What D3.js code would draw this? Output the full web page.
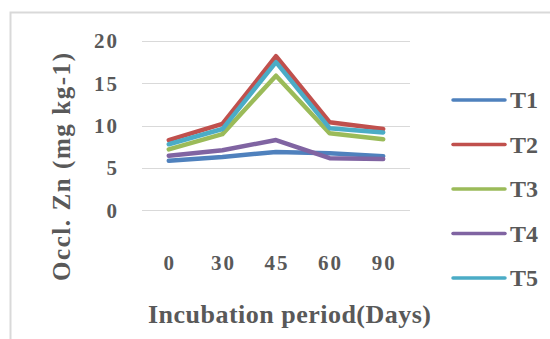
<!DOCTYPE HTML>
<html>
<head>
<meta charset="utf-8">
<title>Occl. Zn</title>
<style>
body { margin: 0; background: #fff; }
svg text { font-family: "Liberation Serif", "Times New Roman", Times, "DejaVu Serif", serif; font-weight: bold; fill: #595959; }
</style>
</head>
<body>
<div id="chart"></div>
<script src="https://cdnjs.cloudflare.com/ajax/libs/d3/7.8.5/d3.min.js"></script>
<script>
// data
var days = ["0", "30", "45", "60", "90"];
var seriesNames = ["T1", "T2", "T3", "T4", "T5"];
var t1 = [5.85, 6.3, 6.9, 6.75, 6.4];
var t2 = [8.3, 10.2, 18.2, 10.4, 9.6];
var t3 = [7.2, 9.0, 15.9, 9.1, 8.4];
var t4 = [6.45, 7.1, 8.3, 6.15, 6.05];
var t5 = [7.8, 9.6, 17.5, 9.7, 9.2];
var yTicks = [0, 5, 10, 15, 20];
var colors = ["#4F81BD", "#C0504D", "#9BBB59", "#8064A2", "#4BACC6"];

var series = [t1, t2, t3, t4, t5];

var W = 550, H = 339;
var svg = d3.select("#chart").append("svg")
	.attr("width", W)
	.attr("height", H);

// chart frame
svg.append("path")
	.attr("d", "M10.5," + H + "V12.5H" + W)
	.attr("fill", "none")
	.attr("stroke", "#d9d9d9")
	.attr("stroke-width", 2);

var x = d3.scalePoint().domain(days).range([142, 410]).padding(0.5);
var y = d3.scaleLinear().domain([0, 20]).range([210.3, 41]);

// gridlines
svg.append("g").selectAll("line")
	.data(yTicks)
	.enter().append("line")
	.attr("x1", 142).attr("x2", 410)
	.attr("y1", function(d){ return Math.round(y(d)) + 0.5; })
	.attr("y2", function(d){ return Math.round(y(d)) + 0.5; })
	.attr("stroke", "#d9d9d9");

// y tick labels
svg.append("g").selectAll("text")
	.data(yTicks)
	.enter().append("text")
	.attr("x", 119)
	.attr("y", function(d){ return y(d); })
	.attr("dy", "0.35em")
	.attr("text-anchor", "end")
	.style("font-size", "21px")
	.style("letter-spacing", "2px")
	.text(function(d){ return d; });

// x tick labels
svg.append("g").selectAll("text")
	.data(days)
	.enter().append("text")
	.attr("x", function(d){ return x(d) + 1; })
	.attr("y", 263)
	.attr("dy", "0.35em")
	.attr("text-anchor", "middle")
	.style("font-size", "21px")
	.style("letter-spacing", "2px")
	.text(function(d){ return d; });

// axis titles
svg.append("text")
	.attr("x", 148)
	.attr("y", 314)
	.attr("dy", "0.35em")
	.attr("textLength", 283)
	.attr("lengthAdjust", "spacing")
	.style("font-size", "26px")
	.text("Incubation period(Days)");

svg.append("text")
	.attr("transform", "translate(61,281) rotate(-90)")
	.attr("dy", "0.35em")
	.attr("textLength", 228)
	.attr("lengthAdjust", "spacing")
	.style("font-size", "25px")
	.text("Occl. Zn (mg kg-1)");

// lines
var line = d3.line()
	.x(function(d, i){ return x(days[i]); })
	.y(function(d){ return y(d); });

svg.append("g").selectAll("path")
	.data(series)
	.enter().append("path")
	.attr("d", line)
	.attr("fill", "none")
	.attr("stroke", function(d, i){ return colors[i]; })
	.attr("stroke-width", 4.5)
	.attr("stroke-linejoin", "round")
	.attr("stroke-linecap", "round");

// legend
var leg = svg.append("g").selectAll("g")
	.data(seriesNames)
	.enter().append("g")
	.attr("transform", function(d, i){ return "translate(0," + (100 + i * 44.5) + ")"; });

leg.append("line")
	.attr("x1", 453).attr("x2", 505)
	.attr("stroke", function(d, i){ return colors[i]; })
	.attr("stroke-width", 3.5)
	.attr("stroke-linecap", "round");

leg.append("text")
	.attr("x", 510)
	.attr("dy", "0.35em")
	.style("font-size", "24px")
	.text(function(d){ return d; });
</script>
</body>
</html>
